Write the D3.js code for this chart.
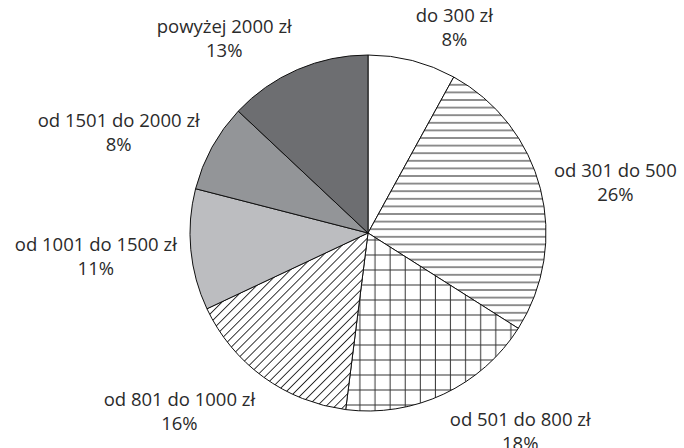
<!DOCTYPE html>
<html>
<head>
<meta charset="utf-8">
<script src="https://cdn.jsdelivr.net/npm/d3@7"></script>
<style>
  html, body { margin: 0; padding: 0; background: #fff; }
  svg { display: block; }
  .label { font-family: "Open Sans", sans-serif; font-size: 18.5px; fill: #2b2b2b; }
</style>
</head>
<body>
<div id="wrapper"></div>
<script>
// data (percent of respondents)
const categories = [
  "do 300 zł",
  "od 301 do 500",
  "od 501 do 800 zł",
  "od 801 do 1000 zł",
  "od 1001 do 1500 zł",
  "od 1501 do 2000 zł",
  "powyżej 2000 zł"
]
const shares = [8, 26, 18, 16, 11, 8, 13]
const shareLabels = ["8%", "26%", "18%", "16%", "11%", "8%", "13%"]

// fill of each slice: white, pattern or grey
const fills = ["#ffffff", "url(#hlines)", "url(#grid)", "url(#diag)", "#bcbdc0", "#939598", "#6d6e71"]

function draw(){

    const dimensions = {
        width: 684,
        height: 448,
        cx: 368,
        cy: 233,
        radius: 178,
        labelGap: 14,
        lineHeight: 24,
    }

    const svg = d3.select("#wrapper")
        .append("svg")
        .attr("width", dimensions.width)
        .attr("height", dimensions.height)

    // hatch patterns
    const defs = svg.append("defs")

    const hl = defs.append("pattern")
        .attr("id", "hlines")
        .attr("patternUnits", "userSpaceOnUse")
        .attr("width", 10)
        .attr("height", 7.6)
    hl.append("rect").attr("width", 10).attr("height", 7.6).attr("fill", "#fff")
    hl.append("line")
        .attr("x1", 0).attr("x2", 10).attr("y1", 3.8).attr("y2", 3.8)
        .attr("stroke", "#222").attr("stroke-width", 1)

    const grid = defs.append("pattern")
        .attr("id", "grid")
        .attr("patternUnits", "userSpaceOnUse")
        .attr("width", 15.1)
        .attr("height", 15)
    grid.append("rect").attr("width", 15.1).attr("height", 15).attr("fill", "#fff")
    grid.append("line")
        .attr("x1", 7).attr("x2", 7).attr("y1", 0).attr("y2", 15)
        .attr("stroke", "#333").attr("stroke-width", 1)
    grid.append("line")
        .attr("x1", 0).attr("x2", 15.1).attr("y1", 7).attr("y2", 7)
        .attr("stroke", "#333").attr("stroke-width", 1)

    const diag = defs.append("pattern")
        .attr("id", "diag")
        .attr("patternUnits", "userSpaceOnUse")
        .attr("width", 6.4)
        .attr("height", 6.4)
        .attr("patternTransform", "rotate(45)")
    diag.append("rect").attr("width", 6.4).attr("height", 6.4).attr("fill", "#fff")
    diag.append("line")
        .attr("x1", 3.2).attr("x2", 3.2).attr("y1", 0).attr("y2", 6.4)
        .attr("stroke", "#222").attr("stroke-width", 0.9)

    const pie = d3.pie()
        .sort(null)
        .value(d => d)

    const arcs = pie(shares)

    const arc = d3.arc()
        .innerRadius(0)
        .outerRadius(dimensions.radius)

    const bounds = svg.append("g")
        .attr("transform", `translate(${dimensions.cx}, ${dimensions.cy})`)

    bounds.selectAll("path")
        .data(arcs)
        .join("path")
        .attr("d", arc)
        .attr("fill", (d, i) => fills[i])
        .attr("stroke", "#111")
        .attr("stroke-width", 1)
        .attr("stroke-linejoin", "round")

    // labels outside the pie, two lines each
    const labels = bounds.append("g")
        .attr("class", "labels")
        .selectAll("text")
        .data(arcs)
        .join("text")
        .attr("class", "label")
        .attr("text-anchor", "middle")

    labels.append("tspan")
        .attr("x", 0)
        .attr("dy", 0)
        .text((d, i) => categories[i])

    labels.append("tspan")
        .attr("x", 0)
        .attr("dy", dimensions.lineHeight)
        .text((d, i) => shareLabels[i])

    // push each label box out from the slice middle until it clears the rim
    labels.each(function(d){
        const node = d3.select(this)
        const w = d3.max(node.selectAll("tspan").nodes(), n => n.getComputedTextLength())
        const h = dimensions.lineHeight * 2
        const mid = (d.startAngle + d.endAngle) / 2
        const r = dimensions.radius + dimensions.labelGap
        const px = r * Math.sin(mid)
        const py = -r * Math.cos(mid)
        const cx = px + Math.sign(Math.sin(mid)) * w / 2
        const cy = py - Math.cos(mid) * h / 2
        node.attr("transform", `translate(${cx}, ${cy - 2})`)
    })
}

draw()
</script>
</body>
</html>
